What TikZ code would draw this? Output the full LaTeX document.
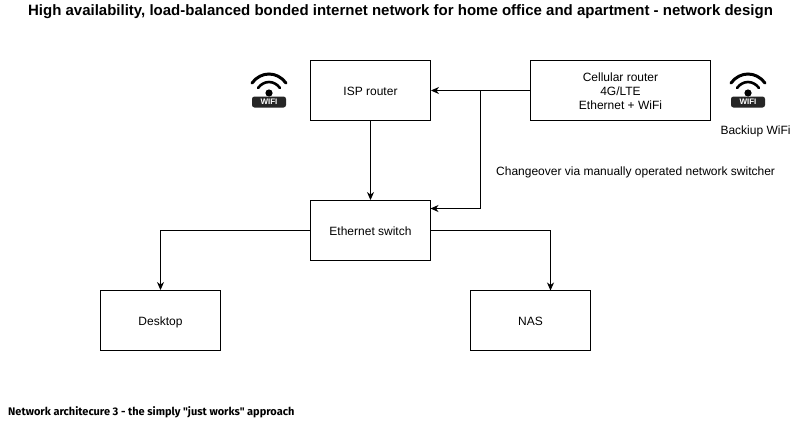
\documentclass[tikz,border=0pt]{standalone}
\usepackage{fontspec}
\setmainfont{Liberation Sans}
\newfontfamily\notefont{Fira Sans}
\usetikzlibrary{arrows.meta}
\tikzset{
  devbox/.style={draw=black,line width=0.9pt,fill=white,minimum width=120pt,minimum height=60pt,inner sep=0pt,font=\fontsize{12}{14}\selectfont,align=center},
  oneline/.style={text height=10.5pt,text depth=1.5pt},
  link/.style={draw=black,line width=0.9pt,-{Stealth[length=8pt,width=7pt,inset=2.5pt]}},
  lbl/.style={inner sep=0pt,font=\fontsize{12}{14}\selectfont,align=center},
  wifiarc/.style={draw=black,line width=2.6pt,line cap=round}
}
\newcommand{\wifiicon}[3]{%
  \begin{scope}[shift={(#1,#2)}]
    \draw[wifiarc,line width=3pt] (-17,-8) .. controls (-8,-20) and (8,-20) .. (17,-8);
    \draw[wifiarc,line width=2.6pt] (-11,-3) .. controls (-5,-11) and (5,-11) .. (11,-3);
    \fill[black] (0,2) circle (3.6);
    \node[fill=black!85,rounded corners=2.5pt,minimum width=34pt,minimum height=11pt,inner sep=0pt,text=white,font=\bfseries\fontsize{8}{8}\selectfont] (#3) at (0,11) {WIFI};
  \end{scope}}
\begin{document}
\begin{tikzpicture}[x=1pt,y=-1pt]
  \useasboundingbox[fill=white] (0,0) rectangle (801,421);
  \node[inner sep=0pt,font=\bfseries\fontsize{15}{17}\selectfont] (title) at (400.5,12) {High availability, load-balanced bonded internet network for home office and apartment - network design};
  \node[devbox,oneline] (isp) at (370.5,90.5) {ISP router};
  \node[devbox,minimum width=180pt] (cell) at (620.5,90.5) {\rule{0pt}{10.5pt}Cellular router\\4G/LTE\\Ethernet + WiFi};
  \node[devbox,oneline] (switch) at (370.5,230.5) {Ethernet switch};
  \node[devbox,oneline] (desktop) at (160.5,320.5) {Desktop};
  \node[devbox,oneline] (nas) at (530.5,320.5) {NAS};
  \coordinate (junction) at (480.5,90.5);
  \coordinate (swin) at (430.5,208.5);
  \coordinate (bend) at (480.5,208.5);
  \coordinate (nasin) at (550.5,290.5);
  \draw[link] (cell.west) -- (isp.east);
  \draw[link] (junction) -- (bend) -- (swin);
  \draw[link] (isp.south) -- (switch.north);
  \draw[link] (switch.west) -| (desktop.north);
  \draw[link] (switch.east) -| (nasin);
  \node[lbl,anchor=west] (change) at (496,172) {Changeover via manually operated network switcher};
  \node[lbl] (backup) at (755.5,131.5) {Backiup WiFi};
  \node[inner sep=0pt,anchor=west,font=\notefont\bfseries\fontsize{11}{13}\selectfont] (note) at (8,412) {Network architecure 3 - the simply "just works" approach};
  \wifiicon{269}{91}{wifia}
  \wifiicon{748}{91}{wifib}
\end{tikzpicture}
\end{document}
